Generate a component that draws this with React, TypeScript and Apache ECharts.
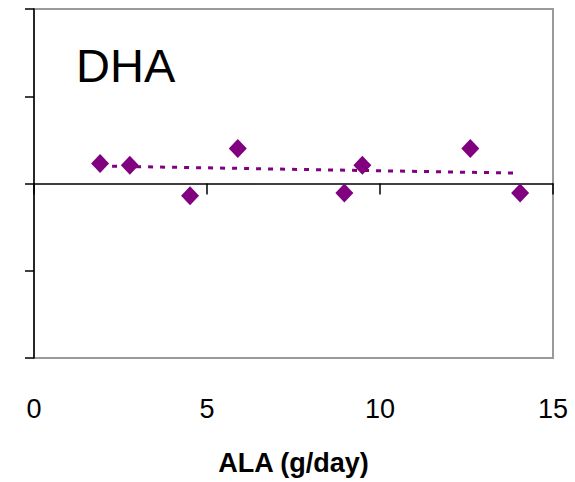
import React, { useEffect, useRef } from "react";
import * as echarts from "echarts";

const alaX = [1.91, 2.77, 4.51, 5.89, 8.97, 9.49, 12.61, 14.05];
const dhaY = [0.23, 0.21, -0.14, 0.4, -0.11, 0.21, 0.4, -0.11];
const trendX = [1.91, 13.85];
const trendY = [0.2, 0.12];
const xTicks = [0, 5, 10, 15];
const panelTitle = "DHA";
const xTitle = "ALA (g/day)";

export default function App() {
  const ref = useRef<HTMLDivElement>(null);
  useEffect(() => {
    if (!ref.current) return;
    const chart = echarts.init(ref.current, null, { renderer: "svg" });
    const font = "'Liberation Sans', Arial, sans-serif";
    chart.setOption({
      animation: false,
      backgroundColor: "#ffffff",
      grid: {
        left: 34,
        right: 22,
        top: 9,
        bottom: 124,
        show: true,
        borderColor: "#9a9a9a",
        borderWidth: 2,
        backgroundColor: "transparent",
      },
      xAxis: [
        {
          type: "value",
          min: xTicks[0],
          max: xTicks[xTicks.length - 1],
          interval: 5,
          position: "bottom",
          axisLine: { show: false, onZero: false },
          axisTick: { show: false },
          splitLine: { show: false },
          axisLabel: {
            show: true,
            margin: 37,
            fontSize: 27,
            fontFamily: font,
            color: "#000",
          },
          name: xTitle,
          nameLocation: "middle",
          nameGap: 91,
          nameTextStyle: {
            fontSize: 27,
            fontWeight: "bold",
            fontFamily: font,
            color: "#000",
          },
        },
        {
          type: "value",
          min: xTicks[0],
          max: xTicks[xTicks.length - 1],
          interval: 5,
          position: "bottom",
          axisLine: { show: true, onZero: true, lineStyle: { color: "#000", width: 1.5 } },
          axisTick: { show: true, inside: false, length: 11, lineStyle: { color: "#000", width: 1.5 } },
          axisLabel: { show: false },
          splitLine: { show: false },
        },
      ],
      yAxis: {
        type: "value",
        min: -2,
        max: 2,
        interval: 1,
        axisLine: { show: true, onZero: false, lineStyle: { color: "#000", width: 1.5 } },
        axisTick: { show: true, inside: false, length: 9, lineStyle: { color: "#000", width: 1.5 } },
        axisLabel: { show: false },
        splitLine: { show: false },
      },
      graphic: [
        {
          type: "text",
          left: 76,
          top: 42,
          style: {
            text: panelTitle,
            fontSize: 47,
            fontFamily: font,
            fill: "#000",
          },
        },
      ],
      series: [
        {
          type: "line",
          xAxisIndex: 0,
          data: trendX.map((x, i) => [x, trendY[i]]),
          showSymbol: false,
          symbol: "none",
          lineStyle: { color: "#800080", width: 3, type: [5, 7] },
          z: 2,
        },
        {
          type: "scatter",
          xAxisIndex: 0,
          data: alaX.map((x, i) => [x, dhaY[i]]),
          symbol: "diamond",
          symbolSize: [18, 19],
          itemStyle: { color: "#800080", opacity: 1 },
          z: 3,
        },
      ],
    });
    return () => chart.dispose();
  }, []);
  return <div ref={ref} style={{ width: 575, height: 482, position: "absolute", left: 0, top: 0 }} />;
}
